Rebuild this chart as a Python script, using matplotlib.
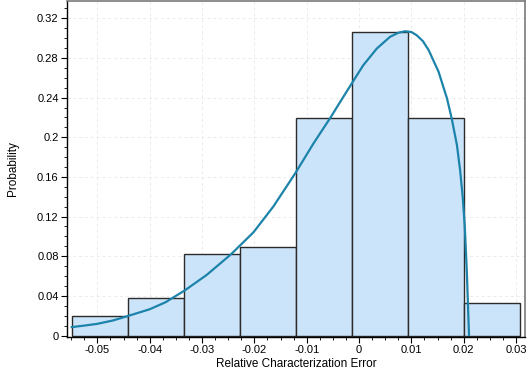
import numpy as np
import matplotlib.pyplot as plt
from matplotlib.ticker import MultipleLocator, FuncFormatter

plt.rcParams['font.family'] = ['Liberation Sans', 'DejaVu Sans']

# histogram bins (edges) and heights
bin_edges = [-0.0548, -0.0441, -0.0334, -0.0227, -0.0121, -0.0014, 0.0093, 0.0200, 0.0307]
probs = [0.0195, 0.0383, 0.0823, 0.0891, 0.2197, 0.3067, 0.2197, 0.0326]

# fitted density curve
curve_x = [-0.0549, -0.0525, -0.0500, -0.0470, -0.0441, -0.0400, -0.0370, -0.0333,
           -0.0291, -0.0245, -0.0202, -0.0164, -0.0122, -0.0087, -0.0055, -0.0036,
           -0.0014, 0.0008, 0.0034, 0.0059, 0.0075, 0.0088, 0.0100, 0.0110, 0.0122,
           0.0133, 0.0152, 0.0168, 0.0177, 0.0187, 0.0193, 0.0198, 0.0202, 0.0206,
           0.0208, 0.0210]
curve_y = [0.0085, 0.0100, 0.0118, 0.0152, 0.0198, 0.0265, 0.0335, 0.0455,
           0.0612, 0.0818, 0.1040, 0.1300, 0.1636, 0.1939, 0.2196, 0.2358,
           0.2543, 0.2727, 0.2896, 0.3013, 0.3055, 0.3070, 0.3062, 0.3030, 0.2970,
           0.2879, 0.2660, 0.2392, 0.2190, 0.1921, 0.1670, 0.1400, 0.1098, 0.0629,
           0.0320, 0.0007]

x_ticks = [-0.05, -0.04, -0.03, -0.02, -0.01, 0, 0.01, 0.02, 0.03]
y_ticks = [0, 0.04, 0.08, 0.12, 0.16, 0.2, 0.24, 0.28, 0.32]

fig = plt.figure(figsize=(5.29, 3.77), dpi=100)
ax = fig.add_axes([0.1267, 0.1061, 0.8657, 0.8912])

widths = np.diff(bin_edges)
ax.bar(bin_edges[:-1], probs, width=widths, align='edge', color='#cce4fa',
       edgecolor='#2b2b2b', linewidth=1.0, zorder=2)
ax.plot(curve_x, curve_y, color='#1c83aa', linewidth=1.6, zorder=3,
        solid_joinstyle='round')

ax.set_xlim(-0.0558, 0.0317)
ax.set_ylim(-0.0015, 0.3375)
ax.set_xticks(x_ticks)
ax.set_yticks(y_ticks)
ax.xaxis.set_minor_locator(MultipleLocator(0.0025))
ax.yaxis.set_minor_locator(MultipleLocator(0.01))
fmt = FuncFormatter(lambda v, p: f"{v:g}" if abs(v) > 1e-9 else "0")
ax.xaxis.set_major_formatter(fmt)
ax.yaxis.set_major_formatter(fmt)
ax.tick_params(axis='both', which='major', length=4, width=0.8, labelsize=8, pad=2)
ax.tick_params(axis='both', which='minor', length=2, width=0.6)

ax.grid(True, which='major', linestyle=(0, (3, 3)), color='#ebebeb', linewidth=0.7, zorder=0)
ax.set_axisbelow(True)

for s in ['left', 'bottom']:
    ax.spines[s].set_color('black')
    ax.spines[s].set_linewidth(1.0)
for s in ['top', 'right']:
    ax.spines[s].set_color('#7a7a7a')
    ax.spines[s].set_linewidth(1.2)

ax.set_xlabel('Relative Characterization Error', fontsize=8.5, labelpad=2)
ax.set_ylabel('Probability', fontsize=8.5, labelpad=13)

fig.savefig('out.png', dpi=100)
